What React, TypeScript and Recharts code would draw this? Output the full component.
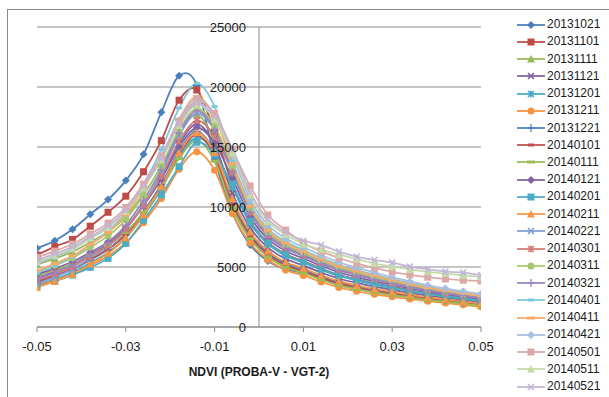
import React from 'react';
import { LineChart, Line, XAxis, YAxis, CartesianGrid, ReferenceLine, ReferenceDot, Legend, Label } from 'recharts';

const X_VALUES = [-0.05, -0.046, -0.042, -0.038, -0.034, -0.03, -0.026, -0.022, -0.018, -0.014, -0.01, -0.006, -0.002, 0.002, 0.006, 0.01, 0.014, 0.018, 0.022, 0.026, 0.03, 0.034, 0.038, 0.042, 0.046, 0.05];
const X_TICKS = [-0.05, -0.03, -0.01, 0.01, 0.03, 0.05];
const Y_TICKS = [0, 5000, 10000, 15000, 20000, 25000];

const SERIES_NAMES = ['20131021', '20131101', '20131111', '20131121', '20131201', '20131211', '20131221', '20140101', '20140111', '20140121', '20140201', '20140211', '20140221', '20140301', '20140311', '20140321', '20140401', '20140411', '20140421', '20140501', '20140511', '20140521'];

const s20131021 = [6560, 7190, 8140, 9390, 10620, 12200, 14390, 17890, 20940, 20150, 14000, 9500, 6830, 5500, 4800, 4500, 4000, 3600, 3280, 3000, 2770, 2550, 2350, 2180, 2020, 1850];
const s20131101 = [6000, 6700, 7300, 8400, 9560, 10900, 12940, 15530, 18900, 19750, 16280, 11900, 8810, 7050, 6080, 5480, 4880, 4350, 3970, 3640, 3340, 3070, 2820, 2600, 2410, 2220];
const s20131111 = [5200, 5700, 6260, 7080, 7950, 9200, 11080, 13330, 16080, 17700, 15370, 9940, 7360, 5890, 5020, 4540, 3980, 3510, 3180, 2900, 2680, 2480, 2280, 2120, 1960, 1790];
const s20131121 = [4100, 4610, 5190, 6020, 6920, 8200, 10120, 12420, 15240, 16900, 15180, 11160, 8270, 6620, 5680, 5120, 4540, 4040, 3670, 3360, 3090, 2850, 2620, 2420, 2240, 2060];
const s20131201 = [3500, 3990, 4550, 5350, 6210, 7440, 9280, 11500, 14200, 15800, 14560, 11650, 8630, 6910, 5940, 5360, 4760, 4250, 3870, 3540, 3250, 2990, 2750, 2540, 2350, 2170];
const s20131211 = [3450, 3900, 4400, 5120, 5900, 7020, 8690, 10700, 13150, 14600, 13060, 9450, 7000, 5600, 4750, 4300, 3750, 3300, 2980, 2720, 2520, 2330, 2150, 2000, 1850, 1680];
const s20131221 = [3700, 4200, 4770, 5590, 6470, 7730, 9620, 11890, 14660, 16300, 14540, 10430, 7730, 6180, 5280, 4770, 4200, 3720, 3370, 3090, 2850, 2620, 2420, 2240, 2070, 1900];
const s20140101 = [3800, 4290, 4840, 5630, 6480, 7700, 9530, 11730, 14410, 16000, 14250, 10180, 7540, 6040, 5150, 4650, 4090, 3620, 3280, 3000, 2770, 2550, 2350, 2180, 2020, 1840];
const s20140111 = [4300, 4750, 5250, 5980, 6760, 7880, 9560, 11580, 14040, 15500, 13830, 9940, 7360, 5850, 4980, 4500, 3940, 3470, 3150, 2880, 2660, 2460, 2260, 2100, 1940, 1770];
const s20140121 = [4400, 4890, 5440, 6230, 7080, 8300, 10130, 12330, 15010, 16600, 15340, 12390, 9180, 7340, 6340, 5710, 5100, 4560, 4160, 3820, 3500, 3210, 2950, 2720, 2520, 2330];
const s20140201 = [3400, 3800, 4330, 4970, 5720, 6970, 8900, 11000, 13360, 15400, 14350, 11900, 8810, 7000, 6040, 5440, 4850, 4320, 3940, 3610, 3310, 3040, 2790, 2580, 2390, 2200];
const s20140211 = [3300, 3820, 4400, 5240, 6140, 7430, 9360, 11690, 14520, 16200, 14540, 10680, 7910, 6330, 5410, 4890, 4310, 3830, 3470, 3180, 2930, 2700, 2480, 2300, 2130, 1950];
const s20140221 = [3600, 4170, 4810, 5730, 6720, 8140, 10270, 12830, 15950, 17800, 16400, 13120, 9720, 7780, 6740, 6060, 5440, 4880, 4460, 4090, 3740, 3430, 3150, 2900, 2690, 2490];
const s20140301 = [3900, 4430, 5030, 5900, 6830, 8160, 10150, 12550, 15470, 17200, 15900, 12880, 9540, 7630, 6610, 5950, 5330, 4770, 4360, 4000, 3660, 3360, 3080, 2840, 2630, 2440];
const s20140311 = [4600, 5140, 5760, 6640, 7590, 8950, 10990, 13440, 16430, 18200, 16750, 13370, 9900, 7920, 6870, 6180, 5550, 4980, 4560, 4180, 3820, 3510, 3210, 2960, 2750, 2540];
const s20140321 = [4000, 4560, 5190, 6100, 7080, 8480, 10580, 13100, 16180, 18000, 16460, 12880, 9540, 7570, 6560, 5900, 5280, 4730, 4320, 3960, 3630, 3330, 3060, 2820, 2610, 2420];
const s20140401 = [4500, 5130, 5840, 6870, 7980, 9560, 11930, 14770, 18250, 20300, 18370, 13850, 10260, 8210, 7140, 6420, 5780, 5190, 4750, 4370, 3990, 3650, 3350, 3080, 2860, 2650];
const s20140411 = [4700, 5280, 5930, 6880, 7890, 9340, 11520, 14130, 17320, 19200, 17520, 13610, 10080, 8070, 7000, 6300, 5660, 5090, 4660, 4280, 3910, 3580, 3280, 3020, 2800, 2600];
const s20140421 = [5300, 5850, 6470, 7360, 8310, 9680, 11740, 14210, 17220, 19000, 17600, 14350, 10630, 8500, 7400, 6650, 6000, 5400, 4950, 4550, 4150, 3800, 3480, 3200, 2970, 2760];
const s20140501 = [5800, 6320, 6910, 7750, 8660, 9960, 11910, 14250, 17110, 18800, 17800, 14800, 11750, 9330, 8080, 7000, 6300, 5750, 5300, 4920, 4600, 4350, 4150, 4000, 3900, 3830];
const s20140511 = [5450, 5970, 6560, 7410, 8320, 9630, 11580, 13930, 16800, 18500, 17300, 14500, 11000, 8800, 7700, 6900, 6450, 6050, 5650, 5300, 5030, 4800, 4600, 4450, 4300, 4170];
const s20140521 = [5580, 6100, 6690, 7530, 8440, 9750, 11700, 14040, 16910, 18600, 17500, 14800, 11250, 9000, 7900, 7190, 6830, 6280, 5860, 5580, 5360, 5030, 4810, 4610, 4530, 4330];

const SERIES_VALUES = [s20131021, s20131101, s20131111, s20131121, s20131201, s20131211, s20131221, s20140101, s20140111, s20140121, s20140201, s20140211, s20140221, s20140301, s20140311, s20140321, s20140401, s20140411, s20140421, s20140501, s20140511, s20140521];

const COLORS = ['#4A7EBB', '#BE4B48', '#98B954', '#7D60A0', '#46AAC5', '#F69240', '#4F81BD', '#C0504D', '#9BBB59', '#8064A2', '#4BACC6', '#F79646', '#7F9FD6', '#D47A78', '#A6C96F', '#9A85C0', '#7EC8DE', '#F9A96A', '#A6BEE0', '#DDA9A8', '#C4DBA8', '#C2B6D8'];
const SHAPES = ['diamond', 'square', 'triangle', 'x', 'star', 'circle', 'plus', 'dashShort', 'dashLong', 'diamond', 'square', 'triangle', 'x', 'star', 'circle', 'plus', 'dashShort', 'dashLong', 'diamond', 'square', 'triangle', 'x'];

const rows = X_VALUES.map((x, i) => {
  const r: Record<string, number> = { x };
  SERIES_NAMES.forEach((n, k) => { r[n] = SERIES_VALUES[k][i]; });
  return r;
});

const excelSmooth = (context: any) => {
  let pts: number[][] = [];
  return {
    areaStart() {},
    areaEnd() {},
    lineStart() { pts = []; },
    point(x: number, y: number) { pts.push([+x, +y]); },
    lineEnd() {
      const n = pts.length;
      if (!n) return;
      context.moveTo(pts[0][0], pts[0][1]);
      for (let i = 0; i < n - 1; i++) {
        const p0 = pts[i > 0 ? i - 1 : i];
        const p1 = pts[i];
        const p2 = pts[i + 1];
        const p3 = pts[i + 2 < n ? i + 2 : i + 1];
        const t = 1 / 6;
        context.bezierCurveTo(
          p1[0] + (p2[0] - p0[0]) * t, p1[1] + (p2[1] - p0[1]) * t,
          p2[0] - (p3[0] - p1[0]) * t, p2[1] - (p3[1] - p1[1]) * t,
          p2[0], p2[1]
        );
      }
    },
  };
};

function Marker({ shape, cx, cy, color }: { shape: string; cx: number; cy: number; color: string }) {
  const s = 3.5;
  switch (shape) {
    case 'diamond':
      return <polygon points={`${cx},${cy - 4} ${cx + 4},${cy} ${cx},${cy + 4} ${cx - 4},${cy}`} fill={color} />;
    case 'square':
      return <rect x={cx - s} y={cy - s} width={2 * s} height={2 * s} fill={color} />;
    case 'triangle':
      return <polygon points={`${cx},${cy - 4} ${cx + 4},${cy + 3.5} ${cx - 4},${cy + 3.5}`} fill={color} />;
    case 'x':
      return <path d={`M${cx - 3},${cy - 3}L${cx + 3},${cy + 3}M${cx + 3},${cy - 3}L${cx - 3},${cy + 3}`} stroke={color} strokeWidth={1.6} fill="none" />;
    case 'star':
      return <path d={`M${cx - 3},${cy - 3}L${cx + 3},${cy + 3}M${cx + 3},${cy - 3}L${cx - 3},${cy + 3}M${cx},${cy - 3.5}L${cx},${cy + 3.5}`} stroke={color} strokeWidth={1.6} fill="none" />;
    case 'circle':
      return <circle cx={cx} cy={cy} r={s} fill={color} />;
    case 'plus':
      return <path d={`M${cx - 4},${cy}L${cx + 4},${cy}M${cx},${cy - 4}L${cx},${cy + 4}`} stroke={color} strokeWidth={1.3} fill="none" />;
    case 'dashShort':
      return <rect x={cx - 3} y={cy - 1.5} width={6} height={3} fill={color} />;
    case 'dashLong':
      return <rect x={cx - 4} y={cy - 1.5} width={8} height={3} fill={color} />;
    default:
      return null;
  }
}

const FONT = '"Liberation Sans", Arial, sans-serif';

const LegendContent = () => (
  <div style={{ fontFamily: FONT }}>
    {SERIES_NAMES.map((name, i) => (
      <div key={name} style={{ height: 17.24, display: 'flex', alignItems: 'center' }}>
        <svg width={32} height={12} style={{ display: 'block' }}>
          <line x1={2} y1={6} x2={30} y2={6} stroke={COLORS[i]} strokeWidth={1.75} />
          <Marker shape={SHAPES[i]} cx={16} cy={6} color={COLORS[i]} />
        </svg>
        <span style={{ fontSize: 12, color: '#1a1a1a', lineHeight: '17px' }}>{name}</span>
      </div>
    ))}
  </div>
);

export default function App() {
  return (
    <div style={{ position: 'relative', width: 609, height: 397, background: '#fff', fontFamily: FONT }}>
      <style>{'html,body{margin:0;padding:0;overflow:hidden;background:#fff}'}</style>
      <div style={{ position: 'absolute', left: 7, top: 9, width: 602, height: 388, borderLeft: '1px solid #888', borderTop: '1px solid #888', boxSizing: 'border-box' }} />
      <div style={{ position: 'absolute', left: 0, top: 0 }}>
        <LineChart width={609} height={397} data={rows} margin={{ top: 27, right: 128, left: 37, bottom: 20 }}>
          <CartesianGrid vertical={false} stroke="#8a8a8a" strokeWidth={1} />
          <XAxis
            dataKey="x"
            type="number"
            domain={[-0.05, 0.05]}
            ticks={X_TICKS}
            tickFormatter={(v: number) => v.toFixed(2)}
            height={50}
            stroke="#8a8a8a"
            tickSize={5}
            tickMargin={10}
            tick={{ fontSize: 13, fill: '#1a1a1a', fontFamily: FONT }}
            allowDataOverflow
          >
            <Label value="NDVI (PROBA-V - VGT-2)" position="insideBottom" offset={1} style={{ fontSize: 12, fontWeight: 'bold', fill: '#1a1a1a', fontFamily: FONT }} />
          </XAxis>
          <YAxis hide type="number" domain={[0, 25000]} ticks={Y_TICKS} />
          <ReferenceLine x={0} stroke="#8a8a8a" strokeWidth={1} />
          {Y_TICKS.map((v) => (
            <ReferenceDot
              key={`yl-${v}`}
              x={0}
              y={v}
              r={0}
              stroke="none"
              fill="none"
              label={{ value: String(v), position: 'left', offset: 13, style: { fontSize: 13, fill: '#1a1a1a', fontFamily: FONT } }}
            />
          ))}
          {SERIES_NAMES.map((name, i) => (
            <Line
              key={name}
              dataKey={name}
              name={name}
              type={excelSmooth as any}
              stroke={COLORS[i]}
              strokeWidth={1.75}
              isAnimationActive={false}
              activeDot={false}
              dot={(p: any) => (
                <Marker key={`${name}-${p.index}`} shape={SHAPES[i]} cx={p.cx} cy={p.cy} color={COLORS[i]} />
              )}
            />
          ))}
          <Legend
            layout="vertical"
            align="center"
            verticalAlign="middle"
            content={LegendContent}
            wrapperStyle={{ left: 515, top: 16, width: 95 }}
          />
        </LineChart>
      </div>
    </div>
  );
}
